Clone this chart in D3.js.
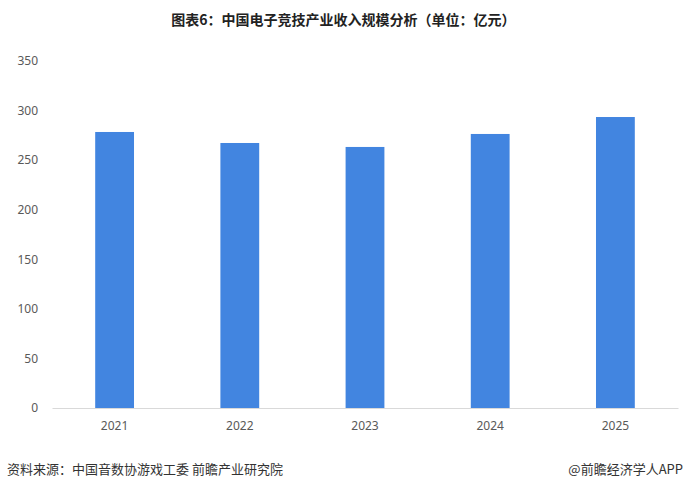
<!DOCTYPE html>
<html>
<head>
<meta charset="utf-8">
<script src="https://d3js.org/d3.v7.min.js"></script>
<style>
  body { margin: 0; background: #fff; }
  svg text { font-family: "Noto Sans CJK SC", "Noto Sans", sans-serif; }
</style>
</head>
<body>
<div id="chart"></div>
<script>
// data
var years = ["2021", "2022", "2023", "2024", "2025"];
var revenue = [278.4, 267.3, 263.3, 276.4, 293.5];
var yTicks = [0, 50, 100, 150, 200, 250, 300, 350];

var W = 687, H = 491;
var margin = {top: 61, right: 9, bottom: 83, left: 52};

var svg = d3.select("#chart").append("svg")
    .attr("width", W)
    .attr("height", H);

// title
svg.append("text")
    .attr("x", W / 2)
    .attr("y", 25)
    .attr("text-anchor", "middle")
    .attr("font-size", 14)
    .attr("font-weight", "bold")
    .attr("fill", "#222")
    .text("图表6：中国电子竞技产业收入规模分析（单位：亿元）");

var x = d3.scaleBand()
    .domain(years)
    .range([margin.left, W - margin.right])
    .paddingInner(0.69)
    .paddingOuter(0.345);

var y = d3.scaleLinear()
    .domain([0, 350])
    .range([H - margin.bottom, margin.top]);

// y axis labels, no line
var yAxis = svg.append("g")
    .attr("transform", "translate(" + margin.left + ",0)")
    .call(d3.axisLeft(y).tickValues(yTicks).tickSize(0).tickPadding(14));
yAxis.select(".domain").remove();
yAxis.selectAll("text")
    .attr("font-size", 12)
    .attr("fill", "#595959")
    .style("font-family", "'Noto Sans', sans-serif");

// bars
svg.append("g")
    .selectAll("rect")
    .data(revenue)
    .enter()
    .append("rect")
    .attr("x", function(d, i) { return x(years[i]); })
    .attr("y", function(d) { return y(d); })
    .attr("width", x.bandwidth())
    .attr("height", function(d) { return y(0) - y(d); })
    .attr("fill", "#4285e0");

// x axis
var xAxis = svg.append("g")
    .attr("transform", "translate(0," + y(0) + ")")
    .call(d3.axisBottom(x).tickSize(0).tickPadding(13));
xAxis.select(".domain")
    .attr("stroke", "#d9d9d9");
xAxis.selectAll("text")
    .attr("font-size", 12)
    .attr("fill", "#595959")
    .style("font-family", "'Noto Sans', sans-serif");

// footer
svg.append("text")
    .attr("x", 7)
    .attr("y", 474)
    .attr("font-size", 13)
    .attr("fill", "#333")
    .text("资料来源：中国音数协游戏工委 前瞻产业研究院");

svg.append("text")
    .attr("x", 683)
    .attr("y", 474)
    .attr("text-anchor", "end")
    .attr("font-size", 13)
    .attr("fill", "#333")
    .text("@前瞻经济学人APP");
</script>
</body>
</html>
